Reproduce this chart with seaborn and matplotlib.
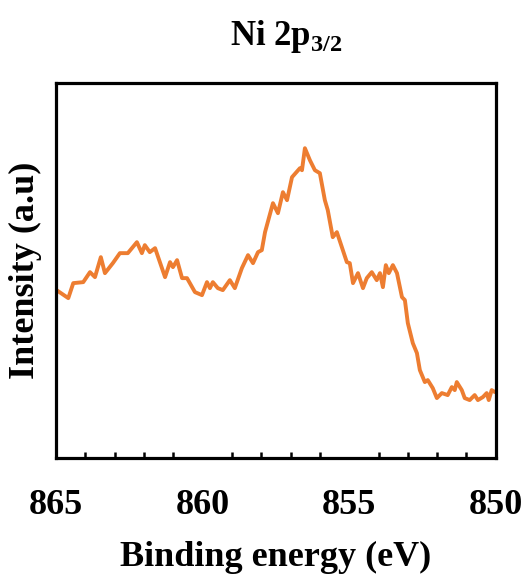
import matplotlib
matplotlib.use("Agg")
import matplotlib.pyplot as plt
import seaborn as sns
import pandas as pd
from matplotlib.ticker import MultipleLocator

# Ni 2p3/2 XPS spectrum
binding_energy = [
    864.98, 864.58, 864.41, 864.07, 863.84, 863.67, 863.47, 863.33, 863.06, 862.82,
    862.55, 862.24, 862.07, 861.97, 861.80, 861.62, 861.28, 861.11, 861.01, 860.87,
    860.70, 860.53, 860.26, 860.02, 859.85, 859.75, 859.65, 859.48, 859.31, 859.07,
    858.90, 858.66, 858.45, 858.28, 858.11, 857.98,
    857.87, 857.60, 857.43, 857.26, 857.12, 856.95, 856.68, 856.61, 856.51, 856.34,
    856.17, 856.00, 855.83, 855.73, 855.56, 855.42, 855.25, 855.08, 854.98, 854.87,
    854.70, 854.53, 854.40, 854.23, 854.06, 853.95, 853.85, 853.75, 853.65, 853.51,
    853.37, 853.20, 853.10, 853.00, 852.83, 852.69, 852.59, 852.42, 852.32, 852.15,
    852.01, 851.84, 851.64, 851.50, 851.40, 851.33, 851.16, 851.06, 850.89, 850.72,
    850.61, 850.44, 850.31, 850.24, 850.14, 850.03,
]
intensity = [
    168, 160, 175, 176, 186, 181, 201, 185, 195, 205,
    205, 216, 205, 213, 206, 210, 181, 196, 191, 198,
    180, 180, 166, 163, 176, 170, 176, 170, 168, 178,
    170, 190, 203, 195, 206, 208,
    226, 255, 245, 266, 258, 281, 290, 288, 310, 298,
    288, 285, 258, 248, 221, 226, 211, 196, 195, 175,
    185, 170, 180, 186, 178, 185, 171, 193, 185, 193,
    185, 161, 158, 135, 115, 105, 88, 76, 78, 70,
    60, 65, 63, 71, 68, 76, 68, 60, 58, 63,
    58, 61, 65, 58, 68, 66,
]
x_ticks = [865, 860, 855, 850]

sns.set_style("white")
plt.rcParams['font.family'] = ['Liberation Serif', 'DejaVu Serif']
plt.rcParams['font.weight'] = 'bold'
plt.rcParams['text.color'] = 'black'
plt.rcParams['axes.labelcolor'] = 'black'
plt.rcParams['xtick.color'] = 'black'
plt.rcParams['mathtext.fontset'] = 'custom'
plt.rcParams['mathtext.bf'] = 'Liberation Serif:bold'
plt.rcParams['mathtext.rm'] = 'Liberation Serif:bold'

df = pd.DataFrame({"energy": binding_energy, "intensity": intensity})

fig = plt.figure(figsize=(5.28, 5.74), dpi=100)
ax = fig.add_axes([0.106, 0.202, 0.833, 0.653])
sns.lineplot(data=df, x="energy", y="intensity", ax=ax, color="#ED7D31",
             linewidth=2.8, sort=False)

ax.set_xlim(865, 850)
ax.set_ylim(0, 375)
ax.set_xticks(x_ticks)
ax.xaxis.set_minor_locator(MultipleLocator(1))
ax.set_yticks([])
ax.tick_params(axis='x', which='major', direction='in', length=7, width=2,
               pad=22, labelsize=26, labelcolor='black')
ax.tick_params(axis='x', which='minor', direction='in', length=4.5, width=1.8,
               bottom=True)
for s in ax.spines.values():
    s.set_linewidth(2.3)
    s.set_color("black")

ax.set_xlabel("Binding energy (eV)", fontsize=26, fontweight='bold', labelpad=14)
ax.set_ylabel("Intensity (a.u)", fontsize=26, fontweight='bold', labelpad=10)
fig.text(0.543, 0.937, r"Ni 2p$_{\mathbf{3/2}}$", fontsize=25, fontweight='bold',
         ha='center', va='center')

fig.savefig("out.png", dpi=100)
